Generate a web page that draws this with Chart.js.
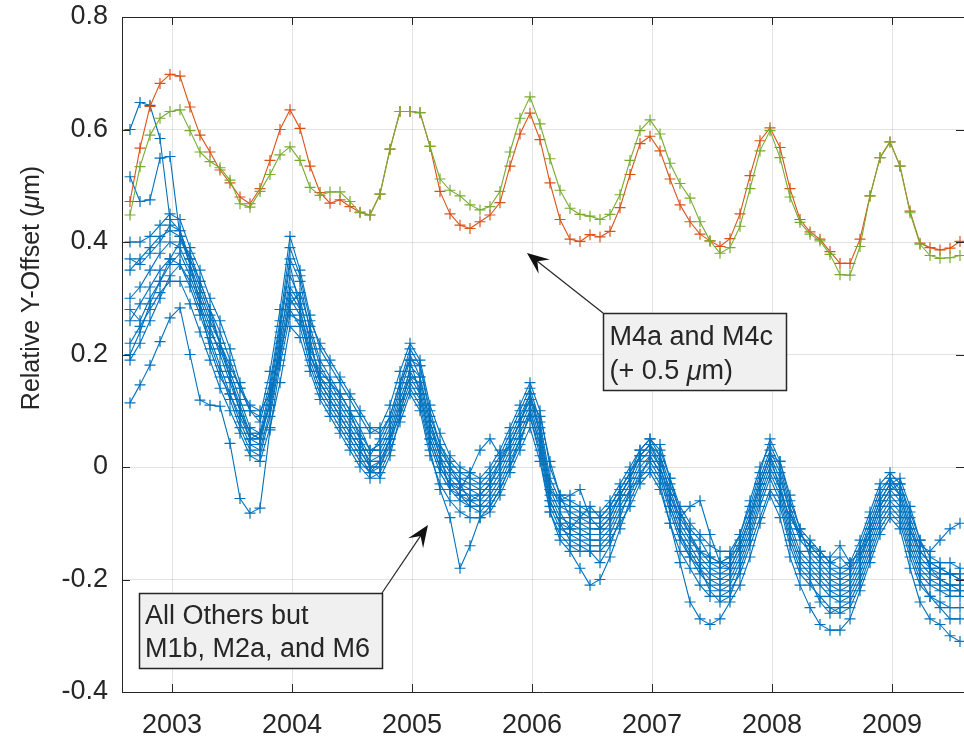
<!DOCTYPE html>
<html>
<head>
<meta charset="utf-8">
<script src="https://cdn.jsdelivr.net/npm/chart.js@4/dist/chart.umd.min.js"></script>
<style>
  html, body { margin: 0; padding: 0; background: #ffffff; overflow: hidden; }
  #wrap { width: 964px; height: 741px; }
</style>
</head>
<body>
<div id="wrap"><canvas id="c" width="964" height="741"></canvas></div>
<script>
// ---- data (monthly samples, first sample at startYear) ----
const startYear = 2002.65;
const xTickValues = [2003, 2004, 2005, 2006, 2007, 2008, 2009];
const yTickValues = [-0.4, -0.2, 0, 0.2, 0.4, 0.6, 0.8];
const yTickLabels = ['-0.4', '-0.2', '0', '0.2', '0.4', '0.6', '0.8'];

// M4a and M4c, shown with +0.5 um offset
const m4a = [0.472,0.567,0.641,0.682,0.698,0.695,0.640,0.590,0.560,0.528,
  0.505,0.480,0.468,0.495,0.545,0.600,0.635,0.602,0.535,0.488,
  0.469,0.475,0.463,0.453,0.448,0.485,0.565,0.632,0.632,0.630,
  0.570,0.490,0.450,0.430,0.424,0.436,0.448,0.470,0.535,0.592,
  0.629,0.582,0.505,0.440,0.405,0.401,0.413,0.409,0.419,0.461,
  0.520,0.575,0.588,0.562,0.512,0.466,0.436,0.414,0.402,0.392,
  0.406,0.450,0.518,0.580,0.603,0.568,0.495,0.440,0.418,0.405,
  0.383,0.362,0.362,0.405,0.482,0.550,0.578,0.535,0.455,0.398,
  0.390,0.386,0.389,0.401];
const m4c = [0.448,0.534,0.590,0.620,0.632,0.635,0.598,0.560,0.543,0.532,
  0.510,0.468,0.462,0.490,0.520,0.555,0.569,0.545,0.497,0.483,
  0.489,0.489,0.472,0.452,0.448,0.485,0.565,0.632,0.632,0.630,
  0.570,0.512,0.492,0.482,0.466,0.457,0.463,0.490,0.560,0.620,
  0.658,0.610,0.548,0.492,0.460,0.449,0.446,0.440,0.449,0.484,
  0.545,0.598,0.617,0.592,0.540,0.504,0.478,0.436,0.402,0.380,
  0.390,0.428,0.495,0.562,0.598,0.550,0.480,0.435,0.414,0.402,
  0.378,0.342,0.341,0.392,0.482,0.550,0.578,0.535,0.452,0.396,
  0.376,0.371,0.372,0.376];

// All others but M1b, M2a and M6
const other1 = [0.600,0.648,0.643,0.584,0.44,0.42,0.37,0.33,0.28,0.24,0.19,
  0.14,0.10,0.08,0.15,0.26,0.39,0.34,0.26,0.22,0.19,
  0.16,0.13,0.10,0.07,0.06,0.09,0.15,0.21,0.18,0.10,
  0.04,0.01,-0.01,-0.02,-0.03,-0.01,0.02,0.06,0.10,0.14,
  0.08,-0.02,-0.06,-0.07,-0.08,-0.09,-0.09,-0.07,-0.04,-0.01,
  0.03,0.05,0.02,-0.03,-0.08,-0.11,-0.13,-0.16,-0.17,-0.16,
  -0.12,-0.06,0.00,0.04,0.00,-0.07,-0.12,-0.14,-0.16,-0.18,
  -0.19,-0.18,-0.14,-0.09,-0.04,-0.02,-0.05,-0.11,-0.15,-0.17,-0.18,-0.19,-0.20];
const other2 = [0.516,0.472,0.475,0.549,0.552,0.41,0.36,0.31,0.26,0.22,0.18,
  0.14,0.11,0.10,0.13,0.20,0.29,0.31,0.25,0.19,0.16,
  0.13,0.10,0.07,0.03,0.03,0.07,0.13,0.19,0.18,0.09,
  0.04,0.00,-0.03,-0.04,-0.05,-0.03,0.00,0.04,0.08,0.12,
  0.09,0.01,-0.05,-0.09,-0.10,-0.11,-0.11,-0.09,-0.05,-0.02,
  0.02,0.04,0.04,-0.02,-0.08,-0.12,-0.16,-0.18,-0.19,-0.18,
  -0.14,-0.09,-0.03,0.02,0.01,-0.05,-0.11,-0.16,-0.18,-0.20,
  -0.21,-0.20,-0.16,-0.11,-0.06,-0.03,-0.02,-0.07,-0.13,-0.18,-0.20,-0.21,-0.22];
const other3 = [0.114,0.146,0.181,0.223,0.265,0.283,0.20,0.119,0.11,0.108,0.042,
  -0.056,-0.082,-0.073,0.066,0.18,0.27,0.26,0.20,0.15,0.12,
  0.09,0.06,0.03,0.00,0.01,0.05,0.11,0.16,0.15,0.07,
  0.02,-0.01,-0.03,-0.06,-0.07,-0.05,-0.02,0.02,0.06,0.10,
  0.04,-0.06,-0.10,-0.11,-0.12,-0.13,-0.13,-0.11,-0.07,-0.04,
  0.00,0.02,-0.01,-0.07,-0.12,-0.15,-0.18,-0.20,-0.21,-0.20,
  -0.16,-0.11,-0.05,0.00,-0.04,-0.11,-0.16,-0.18,-0.20,-0.22,
  -0.23,-0.22,-0.18,-0.13,-0.08,-0.05,-0.07,-0.13,-0.18,-0.20,-0.21,-0.22,-0.22];
const other4 = [0.40,0.40,0.41,0.43,0.45,0.44,0.39,0.35,0.30,0.26,0.21,
  0.15,0.10,0.09,0.17,0.28,0.41,0.35,0.27,0.21,0.18,
  0.15,0.12,0.09,0.06,0.07,0.11,0.17,0.22,0.19,0.11,
  0.06,0.02,0.00,-0.01,-0.02,0.00,0.03,0.07,0.11,0.15,
  0.10,0.00,-0.05,-0.06,-0.07,-0.08,-0.08,-0.06,-0.03,0.00,
  0.03,0.05,0.03,-0.02,-0.07,-0.10,-0.12,-0.14,-0.15,-0.15,
  -0.12,-0.07,-0.01,0.05,0.01,-0.06,-0.11,-0.13,-0.15,-0.17,
  -0.18,-0.17,-0.13,-0.08,-0.03,-0.01,-0.03,-0.09,-0.14,-0.15,-0.13,-0.11,-0.10];
const other5 = [0.35,0.37,0.39,0.41,0.42,0.41,0.37,0.32,0.27,0.22,0.17,
  0.12,0.07,0.06,0.14,0.25,0.37,0.33,0.24,0.18,0.15,
  0.12,0.09,0.06,0.03,0.04,0.08,0.14,0.20,0.16,0.08,
  0.03,0.00,-0.02,-0.03,-0.04,-0.02,0.01,0.05,0.09,0.13,
  0.07,-0.03,-0.07,-0.08,-0.09,-0.10,-0.10,-0.08,-0.05,-0.02,
  0.02,0.04,0.01,-0.04,-0.09,-0.12,-0.15,-0.17,-0.18,-0.17,
  -0.13,-0.08,-0.02,0.03,-0.01,-0.08,-0.13,-0.15,-0.17,-0.19,
  -0.20,-0.19,-0.15,-0.10,-0.05,-0.02,-0.04,-0.10,-0.15,-0.17,-0.18,-0.19,-0.19];
const other6 = [0.30,0.32,0.35,0.38,0.40,0.39,0.35,0.30,0.25,0.20,0.15,
  0.10,0.05,0.04,0.12,0.22,0.34,0.30,0.22,0.16,0.13,
  0.10,0.07,0.04,0.01,0.02,0.06,0.12,0.17,0.14,0.06,
  0.01,-0.02,-0.04,-0.05,-0.06,-0.04,-0.01,0.03,0.07,0.11,
  0.05,-0.05,-0.09,-0.10,-0.11,-0.12,-0.12,-0.10,-0.06,-0.03,
  0.01,0.03,0.00,-0.06,-0.11,-0.14,-0.17,-0.19,-0.20,-0.19,
  -0.15,-0.10,-0.04,0.01,-0.03,-0.10,-0.15,-0.17,-0.19,-0.21,
  -0.22,-0.21,-0.17,-0.12,-0.07,-0.04,-0.06,-0.12,-0.17,-0.19,-0.20,-0.21,-0.21];
const other7 = [0.26,0.29,0.32,0.35,0.37,0.36,0.32,0.27,0.22,0.17,0.12,
  0.07,0.03,0.02,0.09,0.19,0.30,0.27,0.19,0.14,0.11,
  0.08,0.05,0.02,-0.01,0.00,0.04,0.10,0.15,0.12,0.04,
  -0.01,-0.04,-0.06,-0.07,-0.08,-0.06,-0.03,0.01,0.05,0.09,
  0.03,-0.07,-0.11,-0.12,-0.13,-0.14,-0.14,-0.12,-0.08,-0.05,
  -0.01,0.01,-0.02,-0.08,-0.13,-0.16,-0.19,-0.21,-0.22,-0.21,
  -0.17,-0.12,-0.06,-0.01,-0.05,-0.12,-0.17,-0.19,-0.21,-0.23,
  -0.24,-0.23,-0.19,-0.14,-0.09,-0.06,-0.08,-0.14,-0.19,-0.21,-0.22,-0.23,-0.23];
const other8 = [0.22,0.25,0.28,0.31,0.33,0.33,0.29,0.24,0.19,0.14,0.10,
  0.06,0.02,0.01,0.07,0.15,0.25,0.23,0.17,0.12,0.09,
  0.06,0.03,0.00,-0.02,-0.01,0.03,0.08,0.13,0.10,0.02,
  -0.03,-0.06,-0.08,-0.09,-0.09,-0.08,-0.05,-0.01,0.03,0.07,
  0.01,-0.08,-0.12,-0.14,-0.15,-0.15,-0.15,-0.13,-0.10,-0.07,
  -0.03,-0.01,-0.04,-0.10,-0.15,-0.18,-0.21,-0.23,-0.23,-0.22,
  -0.19,-0.14,-0.09,-0.04,-0.07,-0.14,-0.19,-0.21,-0.23,-0.25,
  -0.26,-0.25,-0.21,-0.16,-0.11,-0.08,-0.10,-0.16,-0.21,-0.23,-0.24,-0.25,-0.25];
const other9 = [0.19,0.22,0.26,0.30,0.34,0.36,0.33,0.28,0.23,0.18,0.13,
  0.08,0.04,0.03,0.10,0.20,0.28,0.25,0.18,0.13,0.10,
  0.07,0.04,0.01,-0.01,0.01,0.05,0.11,0.16,0.13,0.05,
  0.00,-0.03,-0.04,-0.01,0.03,0.05,0.02,0.04,0.08,0.12,
  0.06,-0.04,-0.06,-0.05,-0.04,-0.09,-0.11,-0.09,-0.05,-0.02,
  0.02,0.04,0.02,-0.05,-0.09,-0.07,-0.06,-0.12,-0.17,-0.18,
  -0.14,-0.09,-0.03,0.02,-0.02,-0.08,-0.12,-0.14,-0.16,-0.16,
  -0.14,-0.17,-0.15,-0.11,-0.06,-0.03,-0.05,-0.11,-0.16,-0.18,-0.19,-0.19,-0.20];
const other10 = [0.20,0.24,0.29,0.33,0.37,0.40,0.38,0.33,0.28,0.22,0.16,
  0.10,0.06,0.05,0.11,0.21,0.31,0.28,0.21,0.17,0.15,
  0.13,0.10,0.05,0.00,-0.02,0.02,0.09,0.14,0.11,0.03,
  -0.04,-0.09,-0.18,-0.14,-0.09,-0.07,-0.04,0.00,0.05,0.09,
  0.02,-0.08,-0.13,-0.15,-0.18,-0.21,-0.20,-0.16,-0.11,-0.06,
  -0.02,0.00,-0.03,-0.10,-0.17,-0.24,-0.27,-0.28,-0.27,-0.24,
  -0.21,-0.16,-0.10,-0.05,-0.09,-0.16,-0.21,-0.25,-0.28,-0.29,
  -0.29,-0.27,-0.22,-0.17,-0.12,-0.09,-0.11,-0.18,-0.24,-0.27,-0.28,-0.30,-0.31];
const other11 = [0.37,0.36,0.38,0.40,0.43,0.42,0.36,0.29,0.24,0.21,0.16,
  0.11,0.06,0.05,0.13,0.24,0.36,0.28,0.20,0.16,0.14,
  0.11,0.08,0.05,0.02,0.05,0.09,0.15,0.19,0.13,0.05,
  0.00,-0.03,-0.05,-0.06,-0.05,-0.03,0.01,0.04,0.08,0.13,
  0.06,-0.04,-0.08,-0.11,-0.09,-0.07,-0.09,-0.07,-0.04,-0.01,
  0.02,0.04,0.00,-0.05,-0.10,-0.13,-0.15,-0.16,-0.17,-0.16,
  -0.14,-0.09,-0.03,0.02,-0.04,-0.09,-0.12,-0.14,-0.15,-0.17,
  -0.16,-0.18,-0.16,-0.12,-0.07,-0.04,-0.03,-0.08,-0.13,-0.16,-0.17,-0.17,-0.18];
const other12 = [0.28,0.26,0.30,0.33,0.36,0.38,0.34,0.29,0.21,0.16,0.13,
  0.09,0.05,0.06,0.11,0.23,0.32,0.29,0.23,0.15,0.12,
  0.09,0.06,0.03,0.00,0.00,0.05,0.09,0.18,0.16,0.08,
  0.02,-0.04,-0.05,-0.07,-0.07,-0.07,-0.04,0.00,0.04,0.10,
  0.04,-0.06,-0.10,-0.13,-0.14,-0.15,-0.17,-0.14,-0.09,-0.04,
  -0.02,0.02,-0.01,-0.07,-0.12,-0.16,-0.18,-0.22,-0.24,-0.23,
  -0.18,-0.13,-0.07,-0.02,-0.06,-0.13,-0.18,-0.20,-0.24,-0.26,
  -0.25,-0.24,-0.20,-0.15,-0.10,-0.07,-0.09,-0.15,-0.20,-0.23,-0.25,-0.27,-0.27];
const others = [other1, other2, other3, other4, other5, other6,
  other7, other8, other9, other10, other11, other12];

// ---- annotation text (positions given in data units) ----
const note1Lines = [['M4a and M4c'], ['(+ 0.5 ', {it: '\u03bc'}, 'm)']];
const note2Lines = [['All Others but'], ['M1b, M2a, and M6']];
const notes = [
  { x0: 2006.592, x1: 2008.117, y0: 0.2738, y1: 0.1369, tx: 2006.645, ty: [0.2293, 0.1689],
    lines: note1Lines, from: [2006.592, 0.2738], to: [2005.958, 0.3804] },
  { x0: 2002.725, x1: 2004.75, y0: -0.224, y1: -0.3573, tx: 2002.775, ty: [-0.2667, -0.3253],
    lines: note2Lines, from: [2004.75, -0.224], to: [2005.133, -0.1031] }
];

// ---- build datasets ----
const months = m4a.map((_, i) => startYear + i / 12);
const toPts = vals => vals.map((v, i) => ({ x: months[i], y: v }));
const BLUE = '#0072BD', RED = '#D95319', GREEN = '#77AC30';
function series(vals, color) {
  return {
    data: toPts(vals), borderColor: color, backgroundColor: color,
    pointBorderColor: color, borderWidth: 1.1, pointBorderWidth: 1.2,
    pointStyle: 'cross', pointRadius: 5.5, pointHoverRadius: 5.5, tension: 0
  };
}
const datasets = [series(m4c, GREEN), series(m4a, RED)]
  .concat(others.map(s => series(s, BLUE)));

const FONT = '"Liberation Sans", Arial, Helvetica, sans-serif';
const INK = '#262626';
const TICK_SIZE = 27, NOTE_SIZE = 27, LABEL_SIZE = 25;

function drawRich(ctx, parts, x, y, size) {
  let cx = x;
  parts.forEach(p => {
    const italic = typeof p === 'object';
    const s = italic ? p.it : p;
    ctx.font = (italic ? 'italic ' : '') + size + 'px ' + FONT;
    ctx.fillText(s, cx, y);
    cx += ctx.measureText(s).width;
  });
}
function richWidth(ctx, parts, size) {
  let w = 0;
  parts.forEach(p => {
    const italic = typeof p === 'object';
    const s = italic ? p.it : p;
    ctx.font = (italic ? 'italic ' : '') + size + 'px ' + FONT;
    w += ctx.measureText(s).width;
  });
  return w;
}

const matlabLook = {
  id: 'matlabLook',
  afterDraw(chart) {
    const { ctx, chartArea: a, scales: { x, y } } = chart;
    ctx.save();
    // top box line
    ctx.strokeStyle = INK; ctx.lineWidth = 1;
    ctx.beginPath();
    ctx.moveTo(a.left, Math.round(a.top) + 0.5); ctx.lineTo(a.right, Math.round(a.top) + 0.5);
    ctx.stroke();
    // inward ticks
    const TL = 8;
    ctx.beginPath();
    xTickValues.forEach(v => {
      const px = Math.round(x.getPixelForValue(v)) + 0.5;
      ctx.moveTo(px, a.bottom); ctx.lineTo(px, a.bottom - TL);
      ctx.moveTo(px, a.top); ctx.lineTo(px, a.top + TL);
    });
    yTickValues.forEach(v => {
      const py = Math.round(y.getPixelForValue(v)) + 0.5;
      ctx.moveTo(a.left, py); ctx.lineTo(a.left + TL, py);
      ctx.moveTo(a.right, py); ctx.lineTo(a.right - TL, py);
    });
    ctx.stroke();

    // y-axis title
    ctx.save();
    ctx.translate(32, 288);
    ctx.rotate(-Math.PI / 2);
    ctx.fillStyle = INK;
    ctx.textBaseline = 'middle';
    const yParts = ['Relative Y-Offset (', { it: '\u03bc' }, 'm)'];
    const yw = richWidth(ctx, yParts, LABEL_SIZE);
    drawRich(ctx, yParts, -yw / 2, 0, LABEL_SIZE);
    ctx.restore();

    // annotations
    notes.forEach(n => {
      const L = x.getPixelForValue(n.x0), R = x.getPixelForValue(n.x1);
      const T = y.getPixelForValue(n.y0), B = y.getPixelForValue(n.y1);
      const fx = x.getPixelForValue(n.from[0]), fy = y.getPixelForValue(n.from[1]);
      const tx = x.getPixelForValue(n.to[0]), ty = y.getPixelForValue(n.to[1]);
      const dx = tx - fx, dy = ty - fy, len = Math.hypot(dx, dy);
      const ux = dx / len, uy = dy / len, nx = -uy, ny = ux;
      const HL = 22, HW = 9;
      ctx.strokeStyle = INK; ctx.lineWidth = 1.2;
      ctx.beginPath(); ctx.moveTo(fx, fy);
      ctx.lineTo(tx - ux * HL * 0.6, ty - uy * HL * 0.6); ctx.stroke();
      ctx.fillStyle = '#111';
      ctx.beginPath();
      ctx.moveTo(tx, ty);
      ctx.lineTo(tx - ux * HL + nx * HW, ty - uy * HL + ny * HW);
      ctx.lineTo(tx - ux * HL * 0.6, ty - uy * HL * 0.6);
      ctx.lineTo(tx - ux * HL - nx * HW, ty - uy * HL - ny * HW);
      ctx.closePath(); ctx.fill();
      ctx.fillStyle = '#f0f0f0';
      ctx.fillRect(L, T, R - L, B - T);
      ctx.strokeStyle = INK; ctx.lineWidth = 1.5;
      ctx.strokeRect(Math.round(L) + 0.5, Math.round(T) + 0.5, Math.round(R - L), Math.round(B - T));
      ctx.fillStyle = INK; ctx.textBaseline = 'middle';
      const txp = x.getPixelForValue(n.tx);
      n.lines.forEach((parts, k) => drawRich(ctx, parts, txp, y.getPixelForValue(n.ty[k]), NOTE_SIZE));
    });
    ctx.restore();
  }
};

new Chart(document.getElementById('c'), {
  type: 'line',
  data: { datasets },
  plugins: [matlabLook],
  options: {
    responsive: false,
    animation: false,
    devicePixelRatio: 1,
    layout: { autoPadding: false, padding: { top: 17, right: 0, left: 0, bottom: 0 } },
    plugins: { legend: { display: false }, tooltip: { enabled: false } },
    elements: { line: { borderJoinStyle: 'round' } },
    scales: {
      x: {
        type: 'linear', min: 2002.5833, max: 2009.6,
        afterBuildTicks: s => { s.ticks = xTickValues.map(v => ({ value: v })); },
        afterFit: s => { s.height = 49; s.paddingLeft = 0; s.paddingRight = 0; },
        grid: { color: 'rgba(38,38,38,0.13)', drawTicks: false, lineWidth: 1 },
        border: { display: true, color: INK, width: 1 },
        ticks: { padding: 17, color: INK, font: { family: FONT, size: TICK_SIZE },
                 maxRotation: 0, autoSkip: false, callback: v => String(v) }
      },
      y: {
        type: 'linear', min: -0.4, max: 0.8,
        afterBuildTicks: s => { s.ticks = yTickValues.map(v => ({ value: v })); },
        afterFit: s => { s.width = 122; s.paddingTop = 0; s.paddingBottom = 0; },
        grid: { color: 'rgba(38,38,38,0.13)', drawTicks: false, lineWidth: 1 },
        border: { display: true, color: INK, width: 1 },
        ticks: { padding: 14, color: INK, font: { family: FONT, size: TICK_SIZE },
                 autoSkip: false,
                 callback: v => yTickLabels[yTickValues.findIndex(t => Math.abs(t - v) < 1e-9)] }
      }
    }
  }
});
</script>
</body>
</html>
